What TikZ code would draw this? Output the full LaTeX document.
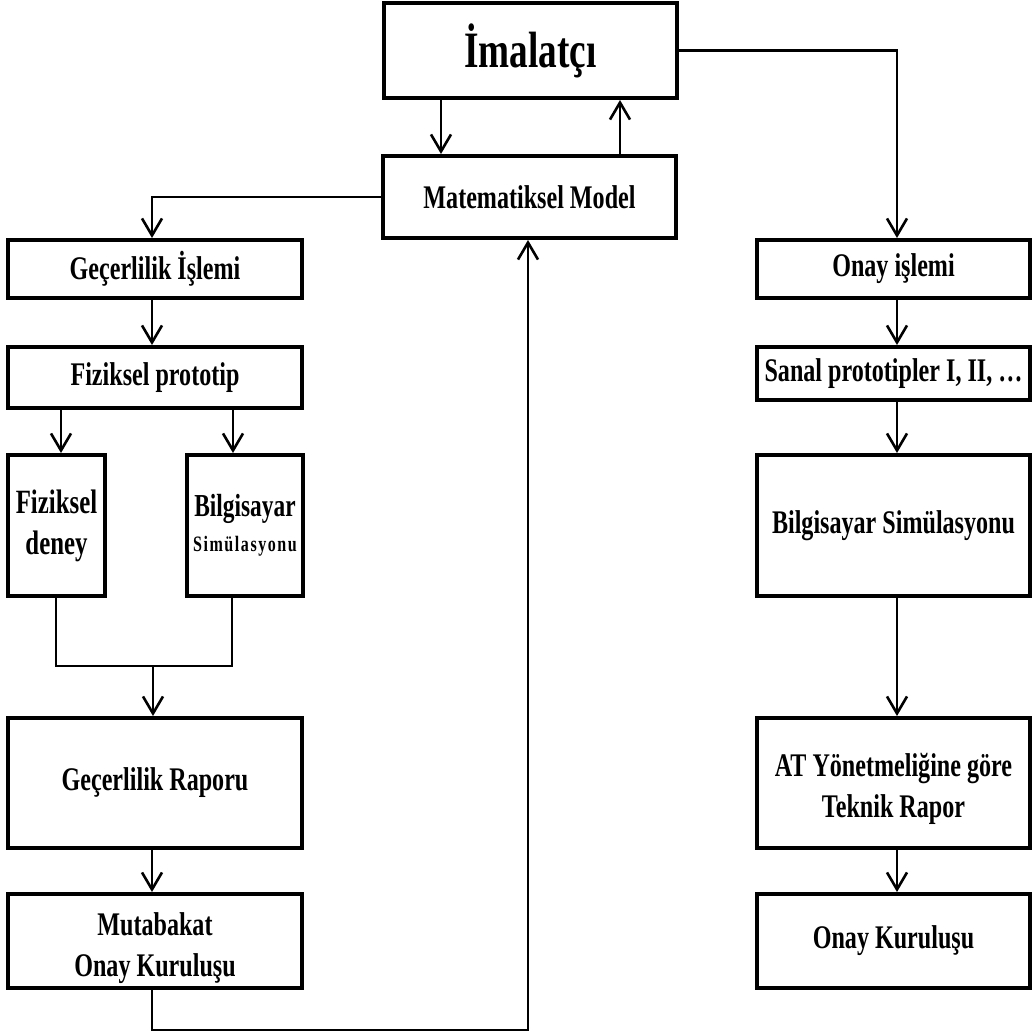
\documentclass[tikz,border=0pt]{standalone}
\usepackage{fontspec}
\setmainfont{Liberation Serif}[FakeStretch=0.73]
\usetikzlibrary{arrows.meta}
\begin{document}
\begin{tikzpicture}[x=1pt,y=-1pt]
\tikzset{
 box/.style={draw, line width=4pt, inner sep=0pt, align=center, font=\bfseries\fontsize{33}{41}\selectfont},
 conn/.style={line width=2.6pt},
 arr/.style={conn, -{Straight Barb[length=17pt,width=20pt,line width=2.6pt]}},
}
\path[use as bounding box] (0,0) rectangle (1033,1036);
% top
\node[box, minimum width=293pt, minimum height=95pt, font=\bfseries\fontsize{51}{60}\selectfont] (imal) at (530.5,50.5) {\rule{0pt}{42pt}İmalatçı};
\node[box, minimum width=293pt, minimum height=82pt] (mat) at (529.5,197) {Matematiksel Model};
% left column
\node[box, minimum width=294pt, minimum height=58pt] (gi) at (155,269) {Geçerlilik İşlemi};
\node[box, minimum width=294pt, minimum height=61pt] (fp) at (155,377.5) {Fiziksel prototip};
\node[box, minimum width=97pt, minimum height=141pt, font=\bfseries\fontsize{34}{41}\selectfont] (fd) at (56.5,525.5) {Fiziksel\\deney};
\node[box, minimum width=116pt, minimum height=141pt] (bsl) at (245,525.5) {{\fontsize{32}{32}\selectfont Bilgisayar}\\[-6pt]{\fontsize{22}{26}\selectfont\addfontfeature{LetterSpace=7}Simülasyonu}};
\node[box, minimum width=294pt, minimum height=130pt] (gr) at (155,783) {Geçerlilik Raporu};
\node[box, minimum width=294pt, minimum height=94pt] (mok) at (155,941) {\rule{0pt}{38pt}Mutabakat\\Onay Kuruluşu};
% right column
\node[box, minimum width=273pt, minimum height=58pt] (oi) at (893.5,269) {Onay işlemi};
\node[box, minimum width=273pt, minimum height=53pt] (sp) at (893.5,373.5) {Sanal prototipler I, II, …};
\node[box, minimum width=273pt, minimum height=141pt] (bsr) at (893.5,525.5) {Bilgisayar Simülasyonu};
\node[box, minimum width=273pt, minimum height=130pt] (at) at (893.5,783) {\rule{0pt}{36pt}AT Yönetmeliğine göre\\Teknik Rapor};
\node[box, minimum width=273pt, minimum height=94pt] (ok) at (893.5,941) {Onay Kuruluşu};
% guide coordinates
\coordinate (xa) at (441,0);
\coordinate (xb) at (620,0);
\coordinate (xr) at (897,0);
\coordinate (xl) at (152,0);
\coordinate (x61) at (61,0);
\coordinate (x233) at (233,0);
\coordinate (x56) at (56,0);
\coordinate (x232) at (232,0);
\coordinate (j) at (153,666);
\coordinate (bot) at (528,1030);
% connectors
\draw[arr] (imal.south -| xa) -- (mat.north -| xa);
\draw[arr] (mat.north -| xb) -- (imal.south -| xb);
\draw[arr] (imal.east) -| (oi.north -| xr);
\draw[arr] (mat.west) -| (gi.north -| xl);
\draw[arr] (gi.south -| xl) -- (fp.north -| xl);
\draw[arr] (fp.south -| x61) -- (fd.north -| x61);
\draw[arr] (fp.south -| x233) -- (bsl.north -| x233);
\draw[conn] (fd.south -| x56) |- (j) -| (bsl.south -| x232);
\draw[arr] (j) -- (gr.north -| j);
\draw[arr] (gr.south -| xl) -- (mok.north -| xl);
\draw[arr] (mok.south -| xl) |- (bot) -- (mat.south -| bot);
\draw[arr] (oi.south -| xr) -- (sp.north -| xr);
\draw[arr] (sp.south -| xr) -- (bsr.north -| xr);
\draw[arr] (bsr.south -| xr) -- (at.north -| xr);
\draw[arr] (at.south -| xr) -- (ok.north -| xr);
\end{tikzpicture}
\end{document}
